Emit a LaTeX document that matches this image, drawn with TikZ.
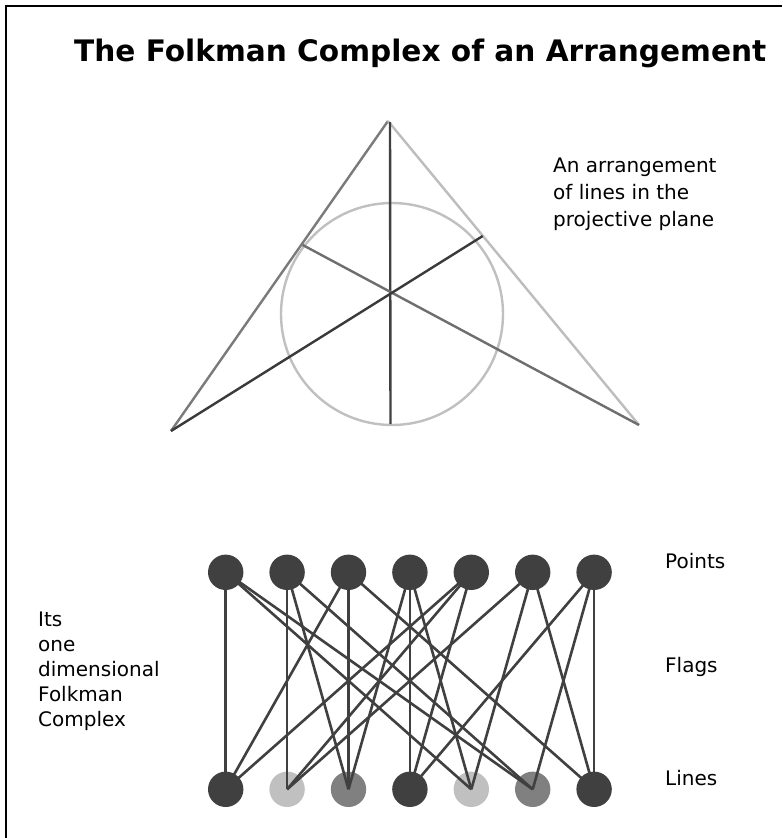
\documentclass[tikz,border=0pt]{standalone}
\usepackage{fontspec}
\setmainfont{DejaVu Sans}
\definecolor{dk}{HTML}{404040}
\definecolor{md}{HTML}{808080}
\definecolor{lt}{HTML}{C0C0C0}
\definecolor{sideL}{HTML}{7A7A7A}
\definecolor{sideR}{HTML}{BDBDBD}
\definecolor{diagB}{HTML}{6E6E6E}
\pgfdeclarelayer{bg}
\pgfdeclarelayer{edges}
\pgfsetlayers{bg,edges,main}
\begin{document}
\begin{tikzpicture}[x=1pt,y=-1pt,
  frameline/.style={draw=black,line width=1.1pt},
  arrline/.style={line width=2.4pt},
  gnode/.style={circle,inner sep=0pt,minimum size=35.4pt,draw=none},
  gedge/.style={draw=dk,line width=2.6pt},
  lbl/.style={anchor=base west,inner sep=0pt,font=\fontsize{20}{24}\selectfont},
  titlelbl/.style={anchor=base west,inner sep=0pt,font=\fontsize{29.6}{34}\selectfont\bfseries}]
\useasboundingbox (0,0) rectangle (782,838);
\begin{pgfonlayer}{bg}
\fill[white] (0,0) rectangle (782,838);
\end{pgfonlayer}
\draw[frameline] (6,838) -- (6,6) -- (782,6);

\node[titlelbl] (title) at (74,61) {The Folkman Complex of an Arrangement};

% arrangement
\coordinate (apex) at (388,121);
\coordinate (vt) at (390,122);
\coordinate (bl) at (171,431);
\coordinate (br) at (639,425);
\coordinate (vb) at (390.5,424);
\coordinate (ul) at (302.7,245);
\coordinate (ur) at (482.7,236);
\coordinate (cc) at (392,314);
\draw[arrline,draw=lt] (cc) circle (111);
\draw[arrline,draw=sideL] (apex) -- (bl);
\draw[arrline,draw=sideR] (apex) -- (br);
\draw[arrline,draw=dk] (vt) -- (vb);
\draw[arrline,draw=diagB] (ul) -- (br);
\draw[arrline,draw=dk!90!black] (bl) -- (ur);

\node[lbl] (a1) at (553,172) {An arrangement};
\node[lbl] (a2) at (553,199) {of lines in the};
\node[lbl] (a3) at (553,226) {projective plane};

% graph
\foreach \i/\c in {1/dk,2/lt,3/md,4/dk,5/lt,6/md,7/dk}{
  \begin{pgfonlayer}{bg}
  \node[gnode,fill=\c] (l\i) at ({225.7+61.4*(\i-1)},789.3) {};
  \end{pgfonlayer}
  \node[gnode,fill=dk] (p\i) at ({225.7+61.4*(\i-1)},572.3) {};
}
\begin{pgfonlayer}{edges}
\foreach \p/\l in {1/1,1/5,1/6,2/2,2/3,2/6,3/1,3/3,3/7,4/3,4/4,4/5,5/1,5/2,5/4,6/2,6/5,6/7,7/4,7/6,7/7}{
  \draw[gedge] (p\p.center) -- (l\l.center);
}
\end{pgfonlayer}

\node[lbl] (pts) at (665,568) {Points};
\node[lbl] (flg) at (665,672) {Flags};
\node[lbl] (lns) at (665,785) {Lines};

\node[lbl] (c1) at (38,626) {Its};
\node[lbl] (c2) at (38,651) {one};
\node[lbl] (c3) at (38,676) {dimensional};
\node[lbl] (c4) at (38,701) {Folkman};
\node[lbl] (c5) at (38,726) {Complex};
\end{tikzpicture}
\end{document}
